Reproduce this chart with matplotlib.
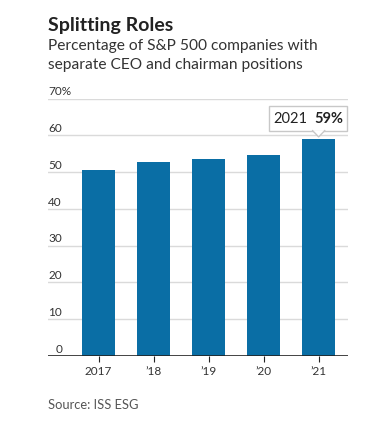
import matplotlib
matplotlib.use('Agg')
import matplotlib.pyplot as plt
from matplotlib.patches import Rectangle, Polygon

# === DATA ===
years = ["2017", "\u201918", "\u201919", "\u201920", "\u201921"]
share = [50.7, 52.9, 53.7, 54.8, 58.9]
y_ticks = [0, 10, 20, 30, 40, 50, 60, 70]
y_tick_labels = ["0", "10", "20", "30", "40", "50", "60", "70%"]
highlight_label = "2021"
highlight_value = "59%"

# === STYLE ===
plt.rcParams['font.family'] = ['Lato', 'DejaVu Sans']
bar_color = "#0a6ea5"
grid_color = "#dadada"
text_color = "#333333"

fig = plt.figure(figsize=(3.79, 4.25), dpi=100)
ax = fig.add_axes([0.1267, 0.1624, 0.791, 0.6054])

x = list(range(len(years)))
ax.bar(x, share, width=0.6, color=bar_color, zorder=2)

ax.set_xlim(-0.92, 4.53)
ax.set_ylim(0, 70)

# gridlines
for t in y_ticks[1:]:
    ax.axhline(t, color=grid_color, linewidth=1, zorder=1)
ax.axhline(0, color="#222222", linewidth=1.2, zorder=3)

for side in ["top", "right", "left", "bottom"]:
    ax.spines[side].set_visible(False)
ax.set_yticks([])
ax.set_xticks(x)
ax.set_xticklabels(years, fontsize=8.5, color=text_color)
ax.tick_params(axis='x', length=4, width=0.8, color="#222222", pad=3)

# y labels sitting on the gridlines, left aligned ("0" nudged under the units)
for t, lab in zip(y_ticks, y_tick_labels):
    xpos = 0.024 if len(lab) == 1 else 0.0
    ax.text(xpos, t + 0.9, lab, transform=ax.get_yaxis_transform(),
            ha='left', va='baseline', fontsize=8.5, color=text_color)

# tooltip for last bar
last = len(years) - 1
ax.add_patch(Rectangle((3.09, 61.3), 1.43, 6.6, facecolor="white",
                       edgecolor="#c8c8c8", linewidth=1, zorder=5, clip_on=False))
ax.add_patch(Polygon([[last - 0.11, 61.35], [last + 0.11, 61.35], [last, 59.6]],
                     closed=True, facecolor="white", edgecolor="none",
                     zorder=6, clip_on=False))
ax.plot([last - 0.11, last, last + 0.11], [61.3, 59.6, 61.3],
        color="#c8c8c8", linewidth=1, zorder=6, clip_on=False)
ax.text(3.18, 64.6, highlight_label, ha='left', va='center', fontsize=10.5,
        color="#222222", zorder=7)
ax.text(3.92, 64.6, highlight_value, ha='left', va='center', fontsize=10.5,
        fontweight='bold', color="#222222", zorder=7)

# titles
fig.text(48 / 379, 1 - 25 / 425, "Splitting Roles", fontsize=14,
         fontweight='bold', color="#222222", ha='left', va='center')
fig.text(48 / 379, 1 - 46 / 425, "Percentage of S&P 500 companies with",
         fontsize=11.2, color=text_color, ha='left', va='center')
fig.text(48 / 379, 1 - 65 / 425, "separate CEO and chairman positions",
         fontsize=11.2, color=text_color, ha='left', va='center')
fig.text(48 / 379, 1 - 405 / 425, "Source: ISS ESG", fontsize=9.3,
         color="#555555", ha='left', va='center')

fig.savefig("out.png", dpi=100)
